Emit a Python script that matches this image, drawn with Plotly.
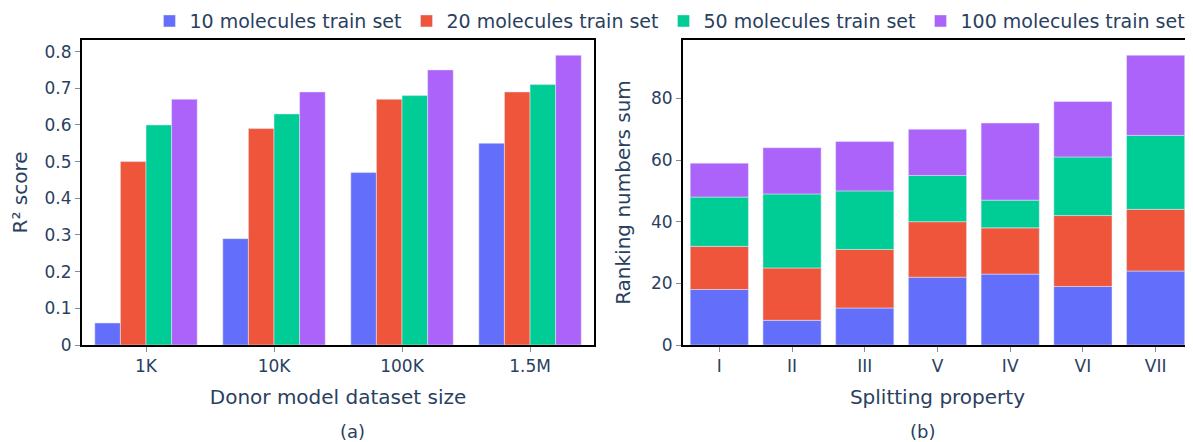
import plotly.graph_objects as go

series_names = ["10 molecules train set", "20 molecules train set",
                "50 molecules train set", "100 molecules train set"]
colors = ["#636efa", "#EF553B", "#00cc96", "#ab63fa"]

dataset_sizes = ["1K", "10K", "100K", "1.5M"]
r2_10 = [0.06, 0.29, 0.47, 0.55]
r2_20 = [0.50, 0.59, 0.67, 0.69]
r2_50 = [0.60, 0.63, 0.68, 0.71]
r2_100 = [0.67, 0.69, 0.75, 0.79]

split_props = ["I", "II", "III", "V", "IV", "VI", "VII"]
rank_10 = [18, 8, 12, 22, 23, 19, 24]
rank_20 = [14, 17, 19, 18, 15, 23, 20]
rank_50 = [16, 24, 19, 15, 9, 19, 24]
rank_100 = [11, 15, 16, 15, 25, 18, 26]

r2_all = [r2_10, r2_20, r2_50, r2_100]
rank_all = [rank_10, rank_20, rank_50, rank_100]

FONT = "Verdana, DejaVu Sans, sans-serif"

fig = go.Figure()
for name, col, vals in zip(series_names, colors, r2_all):
    fig.add_trace(go.Bar(x=dataset_sizes, y=vals, name=name, marker_color=col,
                         marker_line=dict(color="#E5ECF6", width=0.5),
                         xaxis="x", yaxis="y", offsetgroup=name, legendgroup=name))
for name, col, vals in zip(series_names, colors, rank_all):
    fig.add_trace(go.Bar(x=split_props, y=vals, name=name, marker_color=col,
                         marker_line=dict(color="#E5ECF6", width=0.5),
                         xaxis="x2", yaxis="y2", showlegend=False, legendgroup=name,
                         offsetgroup="stack"))

axis_common = dict(showline=True, linecolor="black", linewidth=2, mirror=True,
                   ticks="outside", tickcolor="#7f8c9b", ticklen=5, showgrid=False,
                   zeroline=False, tickfont=dict(size=17, color="#2a3f5f"),
                   automargin=False)

fig.update_layout(
    width=1185, height=434,
    template="plotly",
    plot_bgcolor="white", paper_bgcolor="white",
    font=dict(family=FONT, color="#2a3f5f"),
    margin=dict(l=74, r=1, t=32, b=97, autoexpand=False),
    barmode="relative", bargap=0.2,
    xaxis=dict(domain=[0, 0.4613], anchor="y",
               title=dict(text="Donor model dataset size", font=dict(size=20)), **axis_common),
    yaxis=dict(anchor="x", title=dict(text="R² score", font=dict(size=20)),
               dtick=0.1, rangemode="tozero", **axis_common),
    xaxis2=dict(domain=[0.5414, 1.0], anchor="y2",
                title=dict(text="Splitting property", font=dict(size=20)), **axis_common),
    yaxis2=dict(anchor="x2", title=dict(text="Ranking numbers sum", font=dict(size=20)),
                dtick=20, rangemode="tozero", **axis_common),
    legend=dict(orientation="h", x=0.5297, xanchor="center", y=1.062,
                yanchor="middle", font=dict(size=19), itemwidth=30, traceorder="normal",
                bgcolor="rgba(0,0,0,0)", borderwidth=0, tracegroupgap=0),
    annotations=[
        dict(text="(a)", x=0.2306, y=-0.282, xref="paper", yref="paper",
             showarrow=False, font=dict(size=18), yanchor="middle"),
        dict(text="(b)", x=0.7707, y=-0.282, xref="paper", yref="paper",
             showarrow=False, font=dict(size=18), yanchor="middle"),
    ],
)

fig.write_html("out.html")
